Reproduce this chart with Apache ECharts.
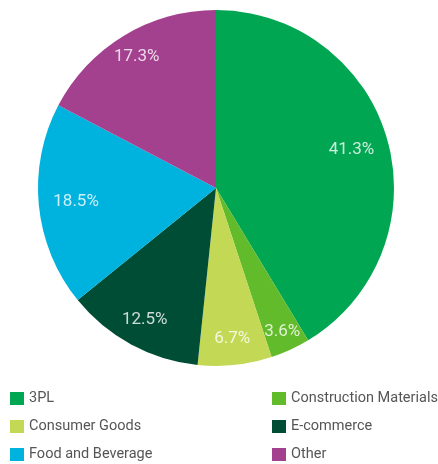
<!DOCTYPE html>
<html><head><meta charset="utf-8">
<script src="https://cdn.jsdelivr.net/npm/echarts@6/dist/echarts.min.js"></script>
<style>html,body{margin:0;padding:0;background:#fff}#c{width:438px;height:464px}</style>
</head><body><div id="c"></div>
<script>
var categories = ['3PL','Construction Materials','Consumer Goods','E-commerce','Food and Beverage','Other'];
var values = [41.3, 3.6, 6.7, 12.5, 18.5, 17.3];
var colors = ['#00A651','#62BB2A','#C3D955','#004D35','#00B2DE','#A3418F'];
var leftCol = ['3PL','Consumer Goods','Food and Beverage'];
var rightCol = ['Construction Materials','E-commerce','Other'];
// label placement style: fraction of pie radius at which each data label sits
var labelRadiusFrac = [0.79, 0.89, 0.85, 0.84, 0.79, 0.86];

var FONT = 'Roboto, sans-serif';
var total = values.reduce(function(a,b){return a+b;},0);
var data = categories.map(function(c,i){return {name:c, value:values[i], itemStyle:{color:colors[i]}};});
var acc = 0;
var labelPts = values.map(function(v,i){var mid = acc + v/2; acc += v; return {value:[labelRadiusFrac[i], mid], pct:v};});

var chart = echarts.init(document.getElementById('c'), null, {renderer:'canvas'});
function legendCfg(d, left){
  return {data:d, orient:'vertical', left:left, top:391, height:100, padding:0,
    itemWidth:14, itemHeight:13, itemGap:13, icon:'rect', selectedMode:false,
    textStyle:{fontFamily:FONT, fontSize:14.5, color:'#555'}};
}
chart.setOption({
  animation:false,
  legend:[legendCfg(leftCol, 10), legendCfg(rightCol, 272)],
  polar:{center:[216,188], radius:178},
  angleAxis:{type:'value', min:0, max:total, startAngle:90, clockwise:true, show:false},
  radiusAxis:{type:'value', min:0, max:1, show:false},
  series:[
    {type:'pie', center:[216,188], radius:[0,178], startAngle:90, clockwise:true,
     data:data, label:{show:false}, labelLine:{show:false}, silent:true,
     itemStyle:{borderWidth:0}},
    {type:'scatter', coordinateSystem:'polar', data:labelPts, symbolSize:0, silent:true,
     label:{show:true, position:'inside', color:'#fff', fontFamily:FONT, fontSize:17,
       formatter:function(p){return p.data.pct.toFixed(1)+'%';}}}
  ]
});
</script></body></html>
